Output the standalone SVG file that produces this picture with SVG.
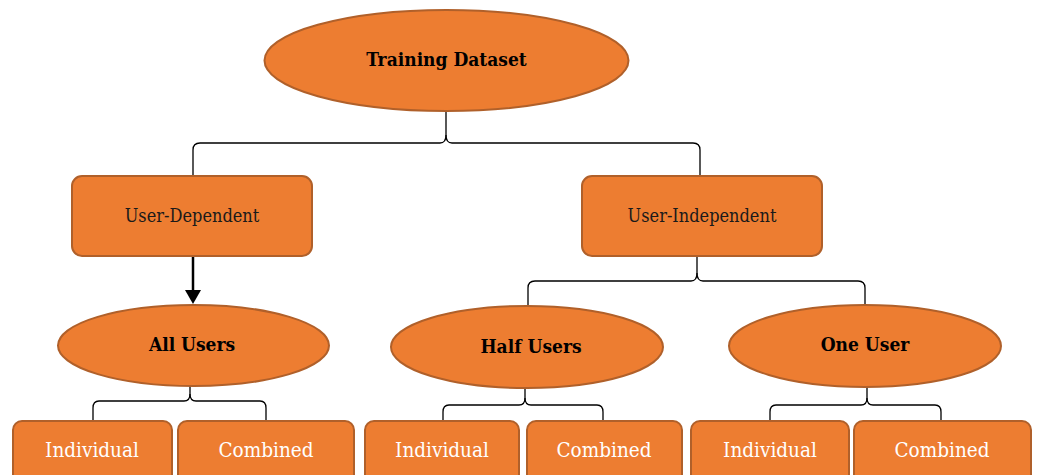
<svg xmlns="http://www.w3.org/2000/svg" width="1038" height="475" viewBox="0 0 1038 475">
<defs>
<style>
.node{fill:#ED7D31;stroke:#B0602A;stroke-width:2}
.t{font-family:"DejaVu Serif Condensed","DejaVu Serif","Liberation Serif",serif;text-anchor:middle}
.b{font-weight:bold;fill:#000;font-size:19px}
.r{fill:#1a1a1a;font-size:18px}
.w{fill:#fff;font-size:20.5px}
.c{fill:none;stroke:#000;stroke-width:1.3}
</style>
</defs>
<g id="connectors">
<path class="c" d="M193 176 L193 150 Q193 143 200 143 L440 143 Q446 143 446 135 L446 111"/>
<path class="c" d="M700 176 L700 150 Q700 143 693 143 L452 143 Q446 143 446 135"/>
<path class="c" d="M528 306 L528 288 Q528 281 535 281 L691 281 Q697 281 697 273 L697 256"/>
<path class="c" d="M865 305 L865 288 Q865 281 858 281 L703 281 Q697 281 697 273"/>
<path class="c" d="M93 421 L93 408 Q93 401 99 401 L184 401 Q190 401 190 394 L190 386"/>
<path class="c" d="M266 421 L266 408 Q266 401 260 401 L196 401 Q190 401 190 394"/>
<path class="c" d="M443 421 L443 412 Q443 405 449 405 L519 405 Q525 405 525 398 L525 388"/>
<path class="c" d="M603 421 L603 412 Q603 405 597 405 L531 405 Q525 405 525 398"/>
<path class="c" d="M770 421 L770 412 Q770 405 776 405 L861 405 Q867 405 867 398 L867 387"/>
<path class="c" d="M941 421 L941 412 Q941 405 935 405 L873 405 Q867 405 867 398"/>
<line x1="193" y1="256" x2="193" y2="292" stroke="#000" stroke-width="2.5"/>
<path d="M185 290 L201 290 L193 304 Z" fill="#000"/>
</g>
<g id="n-training"><ellipse class="node" cx="446.5" cy="60.5" rx="182" ry="50.5"/><text class="t b" x="446.5" y="66">Training Dataset</text></g>
<g id="n-userdep"><rect class="node" x="72" y="176" width="240" height="80" rx="10"/><text class="t r" x="192" y="222">User-Dependent</text></g>
<g id="n-userindep"><rect class="node" x="582" y="176" width="240" height="80" rx="10"/><text class="t r" x="702" y="222">User-Independent</text></g>
<g id="n-all"><ellipse class="node" cx="193.5" cy="345.5" rx="135.5" ry="40.5"/><text class="t b" x="192" y="351">All Users</text></g>
<g id="n-half"><ellipse class="node" cx="527" cy="347" rx="136" ry="41"/><text class="t b" x="531" y="353">Half Users</text></g>
<g id="n-one"><ellipse class="node" cx="865" cy="346" rx="136" ry="41"/><text class="t b" x="865" y="351">One User</text></g>
<g id="n-ind1"><rect class="node" x="13" y="421" width="159" height="70" rx="9"/><text class="t w" x="92" y="457">Individual</text></g>
<g id="n-com1"><rect class="node" x="178" y="421" width="176" height="70" rx="9"/><text class="t w" x="266" y="457">Combined</text></g>
<g id="n-ind2"><rect class="node" x="365" y="421" width="154" height="70" rx="9"/><text class="t w" x="442" y="457">Individual</text></g>
<g id="n-com2"><rect class="node" x="527" y="421" width="155" height="70" rx="9"/><text class="t w" x="604" y="457">Combined</text></g>
<g id="n-ind3"><rect class="node" x="691" y="421" width="158" height="70" rx="9"/><text class="t w" x="770" y="457">Individual</text></g>
<g id="n-com3"><rect class="node" x="854" y="421" width="177" height="70" rx="9"/><text class="t w" x="942" y="457">Combined</text></g>
</svg>
